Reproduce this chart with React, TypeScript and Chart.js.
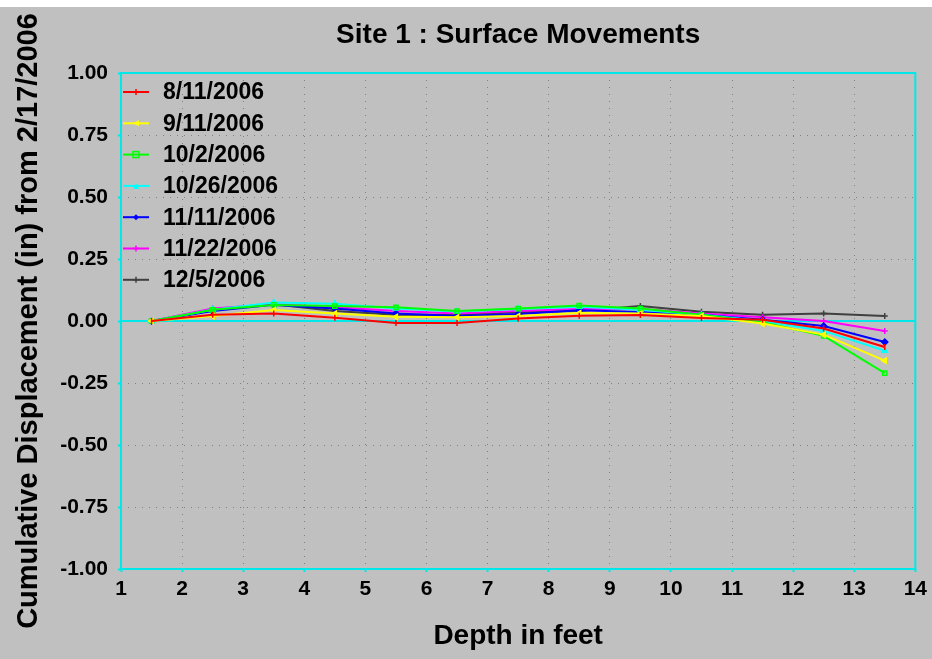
import React, { useEffect, useRef } from "react";
import { Chart, registerables } from "chart.js";

Chart.register(...registerables);

// ---- data ----
const depths = [1.5, 2.5, 3.5, 4.5, 5.5, 6.5, 7.5, 8.5, 9.5, 10.5, 11.5, 12.5, 13.5];
const seriesLabels = ["8/11/2006", "9/11/2006", "10/2/2006", "10/26/2006", "11/11/2006", "11/22/2006", "12/5/2006"];
const s0811 = [0, 0.025, 0.03, 0.013, -0.008, -0.008, 0.01, 0.021, 0.024, 0.012, 0.005, -0.03, -0.105];
const s0911 = [0, 0.02, 0.044, 0.03, 0.017, 0.015, 0.02, 0.032, 0.03, 0.02, -0.01, -0.055, -0.16];
const s1002 = [0, 0.045, 0.065, 0.06, 0.055, 0.04, 0.05, 0.062, 0.05, 0.025, -0.005, -0.06, -0.21];
const s1026 = [0, 0.045, 0.075, 0.07, 0.05, 0.038, 0.048, 0.057, 0.045, 0.025, 0.0, -0.04, -0.12];
const s1111 = [0, 0.04, 0.065, 0.05, 0.03, 0.02, 0.028, 0.043, 0.036, 0.025, 0.005, -0.02, -0.085];
const s1122 = [0, 0.05, 0.068, 0.055, 0.04, 0.03, 0.04, 0.048, 0.048, 0.03, 0.015, 0.0, -0.04];
const s1205 = [0, 0.045, 0.068, 0.04, 0.025, 0.025, 0.035, 0.04, 0.06, 0.037, 0.025, 0.03, 0.02];
const seriesValues = [s0811, s0911, s1002, s1026, s1111, s1122, s1205];
const seriesColors = ["#ff0000", "#ffff00", "#00ff00", "#00ffff", "#0000ff", "#ff00ff", "#404040"];
const seriesMarkers: any[] = ["line", "triangle", "rect", "triangle", "rectRot", "cross", "cross"];
const seriesMarkerRot = [90, -90, 0, 0, 0, 0, 0];

const chartTitle = "Site 1 : Surface Movements";
const xTitle = "Depth in feet";
const yTitle = "Cumulative Displacement (in) from 2/17/2006";
const xMin = 1, xMax = 14, xStep = 1;
const yMin = -1, yMax = 1, yStep = 0.25;

const FONT = '"Liberation Sans", Arial, sans-serif';
const FRAME = "#00e8e8";

function drawMarker(ctx: CanvasRenderingContext2D, i: number, x: number, y: number) {
  const c = seriesColors[i];
  ctx.save();
  ctx.strokeStyle = c;
  ctx.fillStyle = c;
  ctx.lineWidth = 1.5;
  const r = 3;
  ctx.beginPath();
  switch (i) {
    case 0:
      ctx.moveTo(x, y - r); ctx.lineTo(x, y + r); ctx.stroke();
      break;
    case 1:
      ctx.moveTo(x - r, y); ctx.lineTo(x + r, y - r); ctx.lineTo(x + r, y + r); ctx.closePath(); ctx.fill();
      break;
    case 2:
      ctx.strokeRect(x - r, y - r, 2 * r, 2 * r);
      break;
    case 3:
      ctx.moveTo(x, y - r); ctx.lineTo(x + r, y + r); ctx.lineTo(x - r, y + r); ctx.closePath(); ctx.fill();
      break;
    case 4:
      ctx.moveTo(x, y - r); ctx.lineTo(x + r, y); ctx.lineTo(x, y + r); ctx.lineTo(x - r, y); ctx.closePath(); ctx.fill();
      break;
    default:
      ctx.moveTo(x, y - r); ctx.lineTo(x, y + r); ctx.stroke();
      ctx.beginPath(); ctx.moveTo(x - r, y); ctx.lineTo(x + r, y); ctx.stroke();
  }
  ctx.restore();
}

const decorPlugin = {
  id: "decor",
  beforeDraw(chart: any) {
    const { ctx, width, height } = chart;
    ctx.save();
    ctx.fillStyle = "#ffffff";
    ctx.fillRect(0, 0, width, height);
    ctx.fillStyle = "#c0c0c0";
    ctx.fillRect(0, 7, width, height - 7);
    ctx.restore();
  },
  beforeDatasetsDraw(chart: any) {
    const { ctx, chartArea: a, scales } = chart;
    ctx.save();
    ctx.strokeStyle = FRAME;
    ctx.lineWidth = 2;
    ctx.strokeRect(a.left, a.top, a.right - a.left, a.bottom - a.top);
    const y0 = scales.y.getPixelForValue(0);
    ctx.beginPath();
    ctx.moveTo(a.left, y0);
    ctx.lineTo(a.right, y0);
    ctx.stroke();
    ctx.restore();
  },
  afterDraw(chart: any) {
    const { ctx, chartArea: a } = chart;
    ctx.save();
    ctx.fillStyle = "#000000";
    ctx.font = `bold 28px ${FONT}`;
    ctx.textAlign = "center";
    ctx.textBaseline = "middle";
    ctx.fillText(chartTitle, (a.left + a.right) / 2, 35);

    // legend inside plot area
    ctx.font = `bold 23px ${FONT}`;
    ctx.textAlign = "left";
    chart.data.datasets.forEach((ds: any, i: number) => {
      const y = a.top + 19 + i * 31.3;
      ctx.strokeStyle = ds.borderColor;
      ctx.lineWidth = 2;
      ctx.beginPath();
      ctx.moveTo(a.left + 2, y);
      ctx.lineTo(a.left + 28, y);
      ctx.stroke();
      drawMarker(ctx, i, a.left + 15, y);
      ctx.fillStyle = "#000000";
      ctx.fillText(ds.label, a.left + 42, y + 1);
    });
    ctx.restore();
  },
};

export default function App() {
  const ref = useRef<HTMLCanvasElement>(null);
  useEffect(() => {
    document.body.style.margin = "0";
    const canvas = ref.current!;
    const chart = new Chart(canvas, {
      type: "line",
      data: {
        datasets: seriesLabels.map((label, i) => ({
          label,
          data: depths.map((d, j) => ({ x: d, y: seriesValues[i][j] })),
          borderColor: seriesColors[i],
          backgroundColor: i === 2 ? "rgba(0,0,0,0)" : seriesColors[i],
          pointBorderColor: seriesColors[i],
          borderWidth: 2,
          pointStyle: seriesMarkers[i],
          rotation: seriesMarkerRot[i],
          pointRadius: 3,
          pointBorderWidth: 1.5,
          tension: 0,
          fill: false,
        })),
      },
      options: {
        responsive: false,
        animation: false,
        events: [],
        layout: { padding: { top: 73, right: 16, left: 0, bottom: 0 } },
        plugins: { legend: { display: false }, title: { display: false }, tooltip: { enabled: false } },
        scales: {
          x: {
            type: "linear",
            min: xMin,
            max: xMax,
            afterFit: (s: any) => { s.height = 90; },
            ticks: {
              stepSize: xStep,
              autoSkip: false,
              maxRotation: 0,
              padding: 5,
              color: "#000000",
              font: { family: FONT, size: 21, weight: "bold" },
            },
            grid: {
              color: "#808080",
              lineWidth: 1,
              tickColor: FRAME,
              tickLength: 3,
              tickWidth: 2,
            },
            border: { display: false, dash: [1, 6] },
            title: {
              display: true,
              text: xTitle,
              color: "#000000",
              font: { family: FONT, size: 28, weight: "bold" },
              padding: { top: 0, bottom: 6 },
            },
          },
          y: {
            type: "linear",
            min: yMin,
            max: yMax,
            afterFit: (s: any) => { s.width = 121; },
            ticks: {
              stepSize: yStep,
              padding: 10,
              color: "#000000",
              font: { family: FONT, size: 21, weight: "bold" },
              callback: (v: any) => Number(v).toFixed(2),
            },
            grid: {
              color: "#808080",
              lineWidth: 1,
              tickColor: FRAME,
              tickLength: 3,
              tickWidth: 2,
            },
            border: { display: false, dash: [1, 6] },
            title: {
              display: true,
              text: yTitle,
              color: "#000000",
              font: { family: FONT, size: 29, weight: "bold" },
              padding: { top: 12, bottom: 0 },
            },
          },
        },
      } as any,
      plugins: [decorPlugin],
    });
    return () => chart.destroy();
  }, []);
  return (
    <div style={{ width: 932, height: 659 }}>
      <canvas ref={ref} width={932} height={659} style={{ display: "block", width: 932, height: 659 }} />
    </div>
  );
}
